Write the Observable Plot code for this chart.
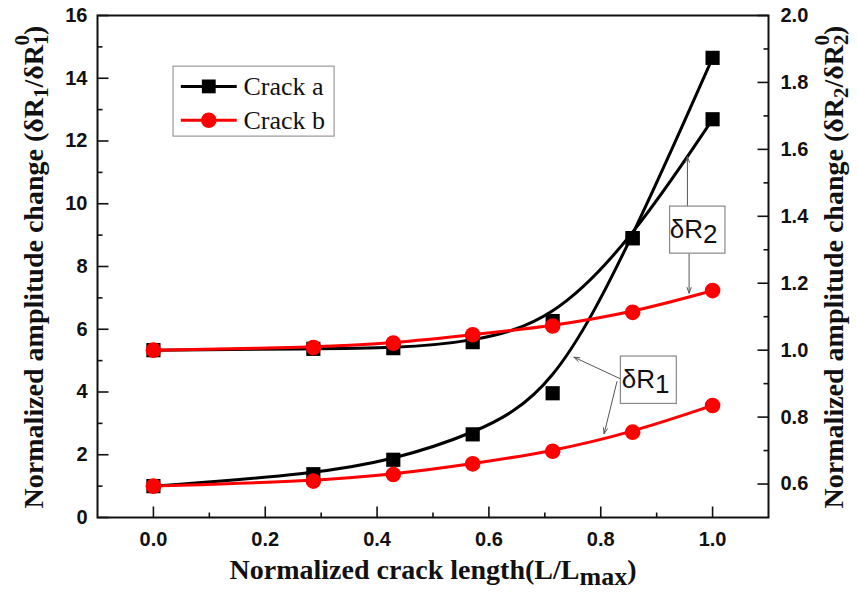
<!DOCTYPE html>
<html><head><meta charset="utf-8">
<script src="https://cdn.jsdelivr.net/npm/d3@7"></script>
<script src="https://cdn.jsdelivr.net/npm/@observablehq/plot@0.6"></script>
<style>body{margin:0;background:#fff}#chart{width:857px;height:592px}</style>
</head><body><div id="chart"></div>
<script>
// ---- data ----
const crackLength = [0, 0.286, 0.429, 0.571, 0.714, 0.857, 1.0];
const crackA_dR1 = [1.0, 1.38, 1.84, 2.65, 3.96, 8.9, 14.65];
const crackB_dR1 = [1.0, 1.16, 1.37, 1.71, 2.11, 2.72, 3.57];
const crackA_dR2 = [1.0, 1.004, 1.006, 1.024, 1.087, 1.335, 1.69];
const crackB_dR2 = [1.0, 1.008, 1.021, 1.046, 1.072, 1.113, 1.178];
const seriesNames = ["Crack a", "Crack b"];
const xTicks = [0, 0.2, 0.4, 0.6, 0.8, 1.0];
const xMinor = [0.1, 0.3, 0.5, 0.7, 0.9];
const leftTicks = [0, 2, 4, 6, 8, 10, 12, 14, 16];
const leftMinor = [1, 3, 5, 7, 9, 11, 13, 15];
const rightTicks = [0.6, 0.8, 1.0, 1.2, 1.4, 1.6, 1.8, 2.0];
const rightMinor = [0.7, 0.9, 1.1, 1.3, 1.5, 1.7, 1.9];

// ---- scales ----
const xDomain = [-0.1, 1.1];
const leftDomain = [0, 16], rightDomain = [0.5, 2.0];
const toLeft = r => (r - rightDomain[0]) / (rightDomain[1] - rightDomain[0]) * (leftDomain[1] - leftDomain[0]) + leftDomain[0];

const rows = (ys, map = v => v) => crackLength.map((x, i) => ({x, y: map(ys[i])}));
const aR1 = rows(crackA_dR1), bR1 = rows(crackB_dR1);
const aR2 = rows(crackA_dR2, toLeft), bR2 = rows(crackB_dR2, toLeft);

const black = "#000", red = "#ff0000";
const sans = "Liberation Sans, Arial, sans-serif";
const serif = "Liberation Serif, Times New Roman, serif";
const tickFont = {fontFamily: sans, fontSize: 20, fontWeight: "bold", fill: "#111"};
const one = [0];

// custom tick symbols (inward ticks of fixed pixel length)
const tickSym = (dx, dy) => ({draw(c) { c.moveTo(0, 0); c.lineTo(dx, dy); }});
const tickMarks = (data, pos, dx, dy) =>
  Plot.dot(data, {...pos, symbol: tickSym(dx, dy), stroke: "#111", fill: "none", strokeWidth: 1.6});

// legend layout (data coordinates)
const legend = seriesNames.map((name, i) => ({name, y: i === 0 ? 13.74 : 12.66, color: i === 0 ? black : red, symbol: i === 0 ? "square" : "circle"}));

// annotations (data coordinates)
const boxes = [
  {x1: 0.924, x2: 1.023, y1: 8.41, y2: 9.91, tx: 0.983, ty: 9.16, sub: "2"},
  {x1: 0.836, x2: 0.936, y1: 3.62, y2: 5.13, tx: 0.897, ty: 4.38, sub: "1"}
];
const arrows = [
  {x1: 0.955, y1: 9.91, x2: 0.955, y2: 11.5},
  {x1: 0.958, y1: 8.41, x2: 0.958, y2: 7.15},
  {x1: 0.834, y1: 4.43, x2: 0.752, y2: 5.11},
  {x1: 0.829, y1: 4.33, x2: 0.806, y2: 2.67}
];

const lineOpts = (c) => ({x: "x", y: "y", stroke: c, strokeWidth: 3, curve: "basis"});
const fmtRight = d => d3.format(".1f")(d);

const plot = Plot.plot({
  width: 857, height: 592,
  marginLeft: 97, marginRight: 89, marginTop: 15, marginBottom: 75,
  x: {domain: xDomain, axis: null},
  y: {domain: leftDomain, axis: null},
  style: {background: "#fff", color: "#000"},
  marks: [
    // inward ticks
    tickMarks(xTicks, {x: d => d, y: leftDomain[0]}, 0, -11),
    tickMarks(xMinor, {x: d => d, y: leftDomain[0]}, 0, -5),
    tickMarks(leftTicks, {x: xDomain[0], y: d => d}, 11, 0),
    tickMarks(leftMinor, {x: xDomain[0], y: d => d}, 5, 0),
    tickMarks(rightTicks, {x: xDomain[1], y: d => toLeft(d)}, -11, 0),
    tickMarks(rightMinor, {x: xDomain[1], y: d => toLeft(d)}, -5, 0),
    // tick labels
    Plot.text(xTicks, {x: d => d, y: leftDomain[0], dy: 22, text: d => d3.format(".1f")(d), ...tickFont}),
    Plot.text(leftTicks, {x: xDomain[0], y: d => d, dx: -10, textAnchor: "end", text: d => String(d), ...tickFont}),
    Plot.text(rightTicks, {x: xDomain[1], y: d => toLeft(d), dx: 12, textAnchor: "start", text: fmtRight, ...tickFont}),
    Plot.frame({stroke: "#111", strokeWidth: 2}),
    // lines
    Plot.line(aR1, lineOpts(black)),
    Plot.line(aR2, lineOpts(black)),
    Plot.line(bR1, lineOpts(red)),
    Plot.line(bR2, lineOpts(red)),
    Plot.dot(aR1, {x: "x", y: "y", symbol: "square", r: 8, fill: black}),
    Plot.dot(aR2, {x: "x", y: "y", symbol: "square", r: 8, fill: black}),
    Plot.dot(bR1, {x: "x", y: "y", symbol: "circle", r: 7.8, fill: red}),
    Plot.dot(bR2, {x: "x", y: "y", symbol: "circle", r: 7.8, fill: red}),
    // annotations
    Plot.arrow(arrows, {x1: "x1", y1: "y1", x2: "x2", y2: "y2", stroke: "#555", strokeWidth: 1, headLength: 9, headAngle: 40}),
    Plot.rect(boxes, {x1: "x1", x2: "x2", y1: "y1", y2: "y2", fill: "#fff", stroke: "#888", strokeWidth: 1.2}),
    Plot.text(boxes, {x: "tx", y: "ty", text: () => "δR", textAnchor: "end", fontFamily: sans, fontSize: 26, fill: "#111"}),
    Plot.text(boxes, {x: "tx", y: "ty", text: "sub", dy: 5, textAnchor: "start", fontFamily: sans, fontSize: 26, fill: "#111"}),
    // legend
    Plot.rect(one, {x1: 0.036, x2: 0.324, y1: 12.14, y2: 14.37, fill: "#fff", stroke: "#999", strokeWidth: 1.2}),
    Plot.link(legend, {x1: 0.049, x2: 0.149, y1: "y", y2: "y", stroke: "color", strokeWidth: 3}),
    Plot.dot(legend, {x: 0.099, y: "y", symbol: "symbol", r: 7.8, fill: "color"}),
    Plot.text(legend, {x: 0.161, y: "y", text: "name", textAnchor: "start", fontFamily: serif, fontSize: 26, fill: "#111"})
  ]
});

// axis titles with sub/superscripts
const svg = d3.select(plot);
function yTitle(x, n) {
  const t = svg.append("text")
    .attr("transform", `translate(${x},267) rotate(-90)`)
    .attr("text-anchor", "middle")
    .attr("font-family", serif).attr("font-weight", "bold").attr("font-size", 28).attr("fill", "#111");
  t.append("tspan").text("Normalized amplitude change (δR");
  t.append("tspan").attr("dy", 5).attr("font-size", 21).text(n);
  t.append("tspan").attr("dy", -5).text("/δR");
  t.append("tspan").attr("dy", 5).attr("font-size", 21).text(n);
  t.append("tspan").attr("dx", -11).attr("dy", -19).attr("font-size", 21).text("0");
  t.append("tspan").attr("dy", 14).text(")");
}
yTitle(43, "1");
yTitle(843, "2");
const xt = svg.append("text")
  .attr("x", 433).attr("y", 579).attr("text-anchor", "middle")
  .attr("font-family", serif).attr("font-weight", "bold").attr("font-size", 28).attr("fill", "#111");
xt.append("tspan").text("Normalized crack length(L/L");
xt.append("tspan").attr("dy", 6).attr("font-size", 26).text("max");
xt.append("tspan").attr("dy", -6).text(")");

document.getElementById("chart").append(plot);
</script>
</body></html>
